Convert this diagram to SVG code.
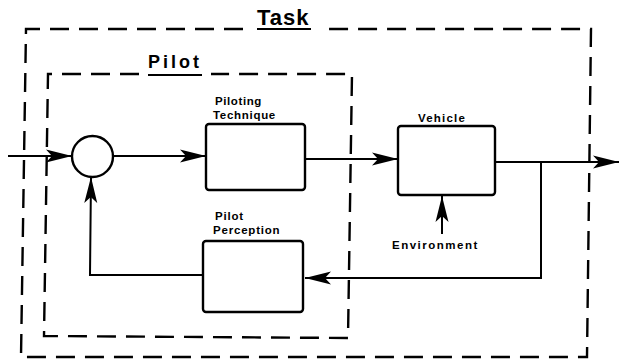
<svg xmlns="http://www.w3.org/2000/svg" width="619" height="364" viewBox="0 0 619 364">
  <style>
    .boundary { fill: none; stroke: #000; stroke-width: 2.4; stroke-dasharray: 19 10; }
    .block { fill: #fff; stroke: #000; stroke-width: 2.4; }
    .wire { fill: none; stroke: #000; stroke-width: 2; }
    .title { font-family: "Liberation Sans", Arial, sans-serif; font-weight: bold; fill: #000; }
    .label { font-family: "Liberation Sans", Arial, sans-serif; font-weight: bold; font-size: 11.5px; fill: #000; }
    .underline { stroke: #000; stroke-width: 2.2; }
  </style>
  <defs>
    <marker id="arrow" markerUnits="userSpaceOnUse" markerWidth="27" markerHeight="14" refX="26" refY="7" orient="auto">
      <path d="M0,0.5 L26,7 L0,13.5 L6,7 Z" fill="#000"/>
    </marker>
  </defs>
  <rect width="619" height="364" fill="#fff"/>

  <!-- Task boundary -->
  <g id="task">
    <path class="boundary" d="M243,29 L26,29 L21,357 L587,357 L591,29 L322,29"/>
    <text class="title" x="257" y="25" font-size="22" letter-spacing="1">Task</text>
    <line class="underline" x1="257" y1="29" x2="311" y2="29"/>
  </g>

  <!-- Pilot boundary -->
  <g id="pilot">
    <path class="boundary" d="M139,74 L48,74 L44,336 L348,338 L352,74 L211,74"/>
    <text class="title" x="148" y="68" font-size="18" letter-spacing="3">Pilot</text>
    <line class="underline" x1="148" y1="75" x2="202" y2="75"/>
  </g>

  <!-- Summing junction -->
  <g id="junction">
    <circle class="block" cx="92.5" cy="156.5" r="20.5"/>
  </g>

  <!-- Piloting Technique block -->
  <g id="piloting-technique">
    <rect class="block" x="206" y="124" width="99" height="66" rx="3"/>
    <text class="label" x="215" y="104.5" letter-spacing="0.6">Piloting</text>
    <text class="label" x="213" y="118.5" letter-spacing="0.7">Technique</text>
  </g>

  <!-- Vehicle block -->
  <g id="vehicle">
    <rect class="block" x="398" y="126" width="97" height="69" rx="3"/>
    <text class="label" x="418" y="122" letter-spacing="1.2">Vehicle</text>
  </g>

  <!-- Pilot Perception block -->
  <g id="pilot-perception">
    <rect class="block" x="203" y="241" width="100" height="71" rx="3"/>
    <text class="label" x="215" y="220" letter-spacing="0.8">Pilot</text>
    <text class="label" x="213" y="234" letter-spacing="0.8">Perception</text>
  </g>

  <!-- Environment input label -->
  <g id="environment">
    <text class="label" x="392" y="249" letter-spacing="1.5">Environment</text>
  </g>

  <!-- Signal flow -->
  <g id="connectors">
    <line class="wire" x1="8" y1="156" x2="72" y2="156" marker-end="url(#arrow)"/>
    <line class="wire" x1="113" y1="156" x2="206" y2="156" marker-end="url(#arrow)"/>
    <line class="wire" x1="305" y1="159" x2="398" y2="159" marker-end="url(#arrow)"/>
    <line class="wire" x1="495" y1="162" x2="619" y2="162" marker-end="url(#arrow)"/>
    <polyline class="wire" points="541,162 541,278 305,278" marker-end="url(#arrow)"/>
    <polyline class="wire" points="203,275 90,275 91,177" marker-end="url(#arrow)"/>
    <line class="wire" x1="442" y1="234" x2="442" y2="196" marker-end="url(#arrow)"/>
  </g>
</svg>
